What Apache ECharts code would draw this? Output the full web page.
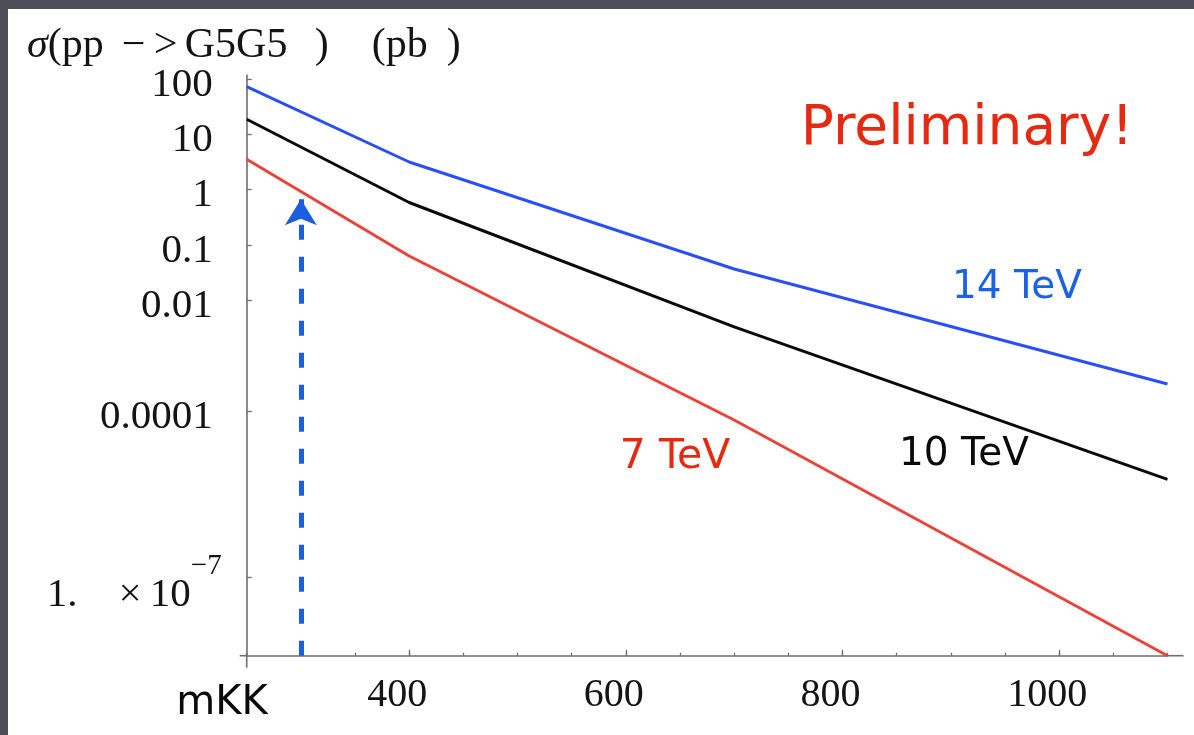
<!DOCTYPE html>
<html>
<head>
<meta charset="utf-8">
<script src="https://cdn.jsdelivr.net/npm/echarts@6/dist/echarts.min.js"></script>
<style>
  html, body { margin: 0; padding: 0; background: #4c4f58; }
  #chart { width: 1194px; height: 735px; }
</style>
</head>
<body>
<div id="chart"></div>
<script>
// KK mass sample points (GeV)
const massPoints = [250, 400, 700, 1100];
// sigma(pp -> G5 G5) in pb, one list per collider energy
const sigma14TeV = [72.6, 3.16, 0.0368, 3.08e-4];
const sigma10TeV = [18.7, 0.586, 0.0033, 5.8e-6];
const sigma7TeV = [3.54, 0.0632, 6.87e-5, 3.78e-9];
const seriesNames = ['14 TeV', '10 TeV', '7 TeV'];

// axis ranges and ticks
const xRange = [250, 1100];
const xSmallTicks = [250, 300, 350, 400, 450, 500, 550, 600, 650, 700, 750, 800, 850, 900, 950, 1000, 1050, 1100];
const xLabelTicks = [400, 600, 800, 1000];
const yRange = [3.78e-9, 118];
const yTickValues = [100, 10, 1, 0.1, 0.01, 0.0001, 1e-7];
const yTickLabels = ['100', '10', '1', '0.1', '0.01', '0.0001', '1.    ×\u200910|−7'];

// dashed arrow marking mKK = 300 GeV
const arrowMass = 300;
const arrowTop = 0.67;

const SERIF = '"Liberation Serif", "Times New Roman", serif';
const SANS = '"DejaVu Sans", Verdana, sans-serif';
const AXIS_GRAY = '#6e6e6e';
const INK = '#141414';

// decade positions of the labelled ticks, on a plain axis spanning log10 of the y range
const yTickExponents = yTickValues.map(v => Math.log10(v));

function yLabel(e) {
  let idx = -1;
  for (let i = 0; i < yTickExponents.length; i++) {
    if (Math.abs(e - yTickExponents[i]) < 1e-6) idx = i;
  }
  if (idx < 0) return '';
  const t = yTickLabels[idx];
  if (t.indexOf('|') >= 0) {
    const parts = t.split('|');
    return '{m|' + parts[0] + '}{s|' + parts[1] + '}';
  }
  return '{n|' + t + '}';
}

function pairs(ys) { return massPoints.map((m, i) => [m, ys[i]]); }

const chart = echarts.init(document.getElementById('chart'), null, { renderer: 'canvas' });

const option = {
  backgroundColor: '#4c4f58',
  animation: false,
  grid: { left: 246.7, right: 26.5, top: 75, bottom: 79.3, containLabel: false },
  xAxis: [
    {
      type: 'value', min: xRange[0], max: xRange[1], position: 'bottom',
      axisLine: { show: true, onZero: false, lineStyle: { color: AXIS_GRAY, width: 1.6 } },
      axisTick: { show: true, inside: true, length: 3, customValues: xSmallTicks, lineStyle: { color: AXIS_GRAY, width: 1.3 } },
      axisLabel: { show: false },
      splitLine: { show: false }
    },
    {
      type: 'value', min: xRange[0], max: xRange[1], position: 'bottom',
      axisLine: { show: false, onZero: false },
      axisTick: { show: true, inside: true, length: 6, customValues: xLabelTicks, lineStyle: { color: AXIS_GRAY, width: 1.3 } },
      axisLabel: {
        show: true, customValues: xLabelTicks, margin: 20,
        formatter: v => String(v),
        fontFamily: SERIF, fontSize: 40, color: INK,
        padding: [0, 24, 0, 0]
      },
      splitLine: { show: false }
    }
  ],
  yAxis: [
    {
      // log scale carrying the curves
      type: 'log', logBase: 10, min: yRange[0], max: yRange[1], position: 'left',
      axisLine: { show: true, onZero: false, lineStyle: { color: AXIS_GRAY, width: 1.6 } },
      axisTick: { show: false },
      axisLabel: { show: false },
      splitLine: { show: false }
    },
    {
      // same span in decades, used only for the labelled tick marks
      type: 'value', min: Math.log10(yRange[0]), max: Math.log10(yRange[1]), position: 'left',
      axisLine: { show: false, onZero: false },
      axisTick: { show: true, inside: true, length: 5, customValues: yTickExponents, lineStyle: { color: AXIS_GRAY, width: 1.3 } },
      axisLabel: {
        show: true, customValues: yTickExponents, margin: 25,
        padding: [12, 0, 0, 0],
        formatter: yLabel,
        rich: {
          n: { fontFamily: SERIF, fontSize: 41, color: INK, padding: [0, 9, 0, 0] },
          m: { fontFamily: SERIF, fontSize: 41, color: INK, padding: [24, 0, 0, 0] },
          s: { fontFamily: SERIF, fontSize: 29, color: INK, padding: [0, 0, 34, 0] }
        }
      },
      splitLine: { show: false }
    }
  ],
  series: [
    {
      name: seriesNames[0], type: 'line', data: pairs(sigma14TeV), showSymbol: false,
      lineStyle: { color: '#2a50f5', width: 3 }, z: 3
    },
    {
      name: seriesNames[1], type: 'line', data: pairs(sigma10TeV), showSymbol: false,
      lineStyle: { color: '#0a0a0a', width: 3 }, z: 3
    },
    {
      name: seriesNames[2], type: 'line', data: pairs(sigma7TeV), showSymbol: false,
      lineStyle: { color: '#e8443a', width: 3 }, z: 3,
      markLine: {
        silent: true, animation: false,
        symbol: ['none', 'arrow'], symbolSize: [24, 26],
        lineStyle: { color: '#1b5fe0', width: 5, type: [15, 17], opacity: 1 },
        label: { show: false },
        emphasis: { disabled: true },
        data: [[{ coord: [arrowMass, yRange[0]] }, { coord: [arrowMass, arrowTop] }]]
      }
    }
  ],
  graphic: [
    { id: 'paper', type: 'rect', z: -10, silent: true, shape: { x: 8, y: 9, width: 1186, height: 726 }, style: { fill: '#ffffff' } },
    {
      id: 'ytitle', type: 'text', left: 27, top: 25, silent: true,
      style: {
        text: '{i|σ}{a|(pp}{b|−\u2009>}{c|G5G5}{d|)}{e|(pb}{f|)}',
        rich: {
          i: { fontFamily: SERIF, fontStyle: 'italic', fontSize: 42, fill: INK },
          a: { fontFamily: SERIF, fontSize: 42, fill: INK, width: 74 },
          b: { fontFamily: SERIF, fontSize: 42, fill: INK, width: 63 },
          c: { fontFamily: SERIF, fontSize: 42, fill: INK, width: 130 },
          d: { fontFamily: SERIF, fontSize: 42, fill: INK, width: 57 },
          e: { fontFamily: SERIF, fontSize: 42, fill: INK, width: 75 },
          f: { fontFamily: SERIF, fontSize: 42, fill: INK }
        }
      }
    },
    { id: 'prelim', type: 'text', x: 967, y: 130, silent: true, style: { text: 'Preliminary!', fontFamily: SANS, fontSize: 55, fill: '#e42a10', align: 'center', verticalAlign: 'middle' } },
    { id: 'lab14', type: 'text', x: 1017, y: 288, silent: true, style: { text: seriesNames[0], fontFamily: SANS, fontSize: 39, fill: '#1d62e6', align: 'center', verticalAlign: 'middle' } },
    { id: 'lab10', type: 'text', x: 964, y: 455, silent: true, style: { text: seriesNames[1], fontFamily: SANS, fontSize: 39, fill: '#0a0a0a', align: 'center', verticalAlign: 'middle' } },
    { id: 'lab7', type: 'text', x: 675, y: 457, silent: true, style: { text: seriesNames[2], fontFamily: SANS, fontSize: 41, fill: '#e42a10', align: 'center', verticalAlign: 'middle' } },
    { id: 'xname', type: 'text', x: 222, y: 704, silent: true, style: { text: 'mKK', fontFamily: SANS, fontSize: 40, fill: '#0a0a0a', align: 'center', verticalAlign: 'middle' } }
  ]
};

chart.setOption(option);

// Axes cross each other slightly past the origin, and the x axis runs a little past the last point
const origin = chart.convertToPixel({ xAxisIndex: 0, yAxisIndex: 0 }, [xRange[0], yRange[0]]);
const xEnd = chart.convertToPixel({ xAxisIndex: 0, yAxisIndex: 0 }, [xRange[1], yRange[0]]);
const stub = { stroke: AXIS_GRAY, lineWidth: 1.6 };
chart.setOption({
  graphic: [
    { id: 'stubLeft', type: 'line', silent: true, z: 5, shape: { x1: origin[0] - 7, y1: origin[1], x2: origin[0], y2: origin[1] }, style: stub },
    { id: 'stubRight', type: 'line', silent: true, z: 5, shape: { x1: xEnd[0], y1: xEnd[1], x2: xEnd[0] + 16, y2: xEnd[1] }, style: stub },
    { id: 'stubDown', type: 'line', silent: true, z: 5, shape: { x1: origin[0], y1: origin[1], x2: origin[0], y2: origin[1] + 12 }, style: stub }
  ]
});
</script>
</body>
</html>
